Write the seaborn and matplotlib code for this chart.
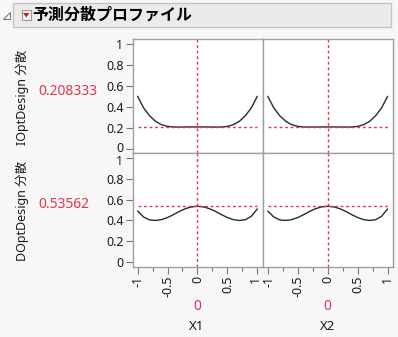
import numpy as np
import pandas as pd
import matplotlib
matplotlib.use("Agg")
import matplotlib.pyplot as plt
import matplotlib.transforms as mtransforms
from matplotlib.patches import Rectangle, Polygon
import seaborn as sns

sns.set_theme(style="white")
plt.rcParams['font.family'] = ['Noto Sans', 'Noto Sans CJK JP', 'DejaVu Sans']

# ---- data ----
x_grid = [-1.0, -0.9, -0.8, -0.7, -0.6, -0.5, -0.4, -0.3, -0.2, -0.1, 0.0,
          0.1, 0.2, 0.3, 0.4, 0.5, 0.6, 0.7, 0.8, 0.9, 1.0]
iopt_var = [0.50, 0.39, 0.315, 0.262, 0.230, 0.214, 0.208, 0.207, 0.208, 0.209, 0.208,
            0.209, 0.208, 0.207, 0.208, 0.214, 0.230, 0.262, 0.315, 0.39, 0.50]
dopt_var = [0.49, 0.433, 0.405, 0.400, 0.408, 0.428, 0.456, 0.487, 0.513, 0.530, 0.536,
            0.530, 0.513, 0.487, 0.456, 0.428, 0.408, 0.400, 0.407, 0.440, 0.51]
factors = ["X1", "X2"]
responses = ["IOptDesign 分散", "DOptDesign 分散"]
current_values = ["0.208333", "0.53562"]
current_levels = [0.208333, 0.53562]
factor_setting = ["0", "0"]
x_ticks = [-1, -0.5, 0, 0.5, 1]
x_ticklabels = ["-1", "-0.5", "0", "0.5", "1"]
y_ticks = [0, 0.2, 0.4, 0.6, 0.8, 1]
y_ticklabels = ["0", "0.2", "0.4", "0.6", "0.8", "1"]
title = "予測分散プロファイル"

series = {responses[0]: iopt_var, responses[1]: dopt_var}

W, H = 398, 337
fig = plt.figure(figsize=(W / 100, H / 100), dpi=100)
fig.patch.set_facecolor("#f7f7f7")

def fx(px):
    return px / W

def fy(py):
    return 1 - py / H

def nudge(label, dx_px, dy_px):
    label.set_transform(label.get_transform() +
                        mtransforms.ScaledTranslation(dx_px / 100, dy_px / 100,
                                                      fig.dpi_scale_trans))

# title bar
fig.patches.append(Rectangle((fx(13), fy(27)), fx(391) - fx(13), fy(3) - fy(27),
                             transform=fig.transFigure, facecolor="#ebebeb",
                             edgecolor="#c4c4c4", lw=1))
# disclosure triangle
fig.patches.append(Polygon([[fx(3), fy(19)], [fx(10), fy(19)], [fx(10), fy(12)]],
                           closed=True, transform=fig.transFigure,
                           facecolor="white", edgecolor="#777777", lw=0.8))
# red triangle button
fig.patches.append(Rectangle((fx(21.5), fy(20)), fx(9.5), fy(10) - fy(20),
                             transform=fig.transFigure, facecolor="#f4f4f4",
                             edgecolor="#9a9a9a", lw=0.8))
fig.patches.append(Polygon([[fx(23), fy(13)], [fx(29.5), fy(13)], [fx(26.25), fy(17.5)]],
                           closed=True, transform=fig.transFigure,
                           facecolor="#cc1f1f", edgecolor="none"))
fig.text(fx(32), fy(15), title, fontsize=11.5, fontweight="bold",
         va="center", ha="left", color="black",
         family=['Noto Sans CJK JP', 'DejaVu Sans'])

red = "#e0364e"
col_x = [(132.5, 262.7), (262.7, 393.0)]
row_y = [(39.3, 153.3), (153.3, 266.7)]
tfs = 9

for r, resp in enumerate(responses):
    for c, fac in enumerate(factors):
        x0, x1 = col_x[c]
        y0, y1 = row_y[r]
        ax = fig.add_axes([fx(x0), fy(y1), fx(x1) - fx(x0), fy(y0) - fy(y1)])
        ax.set_facecolor("white")
        df = pd.DataFrame({"x": x_grid, "v": series[resp]})
        sns.lineplot(data=df, x="x", y="v", ax=ax, color="#2a2a2a", lw=1.0,
                     estimator=None, sort=False)
        ax.axvline(0, color=red, lw=1, ls=(0, (2, 2)))
        ax.hlines(current_levels[r], -1, 1, color=red, lw=1, ls=(0, (2, 2)))
        ax.set_xlim(-1.085, 1.09)
        ax.set_ylim(-0.042, 1.042)
        ax.set_xlabel("")
        ax.set_ylabel("")
        for s in ax.spines.values():
            s.set_color("#a0a0a0")
            s.set_linewidth(1)
        if c == 0:
            ax.set_yticks(y_ticks)
            ax.set_yticklabels(y_ticklabels, fontsize=tfs)
            ax.tick_params(axis="y", left=True, length=5, width=0.8,
                           color="#777777", pad=1.5, labelcolor="#1a1a1a")
            ylabs = ax.get_yticklabels()
            if r == 0:
                nudge(ylabs[0], 0, 2)
            else:
                nudge(ylabs[-1], 0, -2)
        else:
            ax.set_yticks([])
        if r == 1:
            ax.set_xticks(x_ticks)
            ax.set_xticklabels(x_ticklabels, fontsize=tfs, rotation=90)
            ax.set_xticks([-0.75, -0.25, 0.25, 0.75], minor=True)
            ax.tick_params(axis="x", which="major", bottom=True, length=5, width=0.8,
                           color="#777777", pad=1.5, labelcolor="#1a1a1a")
            ax.tick_params(axis="x", which="minor", bottom=True, length=3, width=0.8,
                           color="#777777")
            xlabs = ax.get_xticklabels()
            if c == 0:
                nudge(xlabs[-1], -1.5, 0)
            else:
                nudge(xlabs[0], 1.5, 0)
        else:
            ax.set_xticks([])

# response labels and current values
for r, resp in enumerate(responses):
    yc = (row_y[r][0] + row_y[r][1]) / 2
    fig.text(fx(22), fy(yc + 1), resp, rotation=90, fontsize=9,
             va="center", ha="center", color="#1a1a1a")
    fig.text(fx(38), fy(yc - 5), current_values[r], fontsize=10,
             va="center", ha="left", color=red)

for c, fac in enumerate(factors):
    xc = col_x[c][0] + (col_x[c][1] - col_x[c][0]) / 2 - 0.5
    fig.text(fx(xc), fy(306), factor_setting[c], fontsize=10,
             va="center", ha="center", color=red)
    fig.text(fx(xc), fy(327), fac, fontsize=9.5,
             va="center", ha="center", color="#1a1a1a")

fig.savefig("out.png", dpi=100, facecolor=fig.get_facecolor())
